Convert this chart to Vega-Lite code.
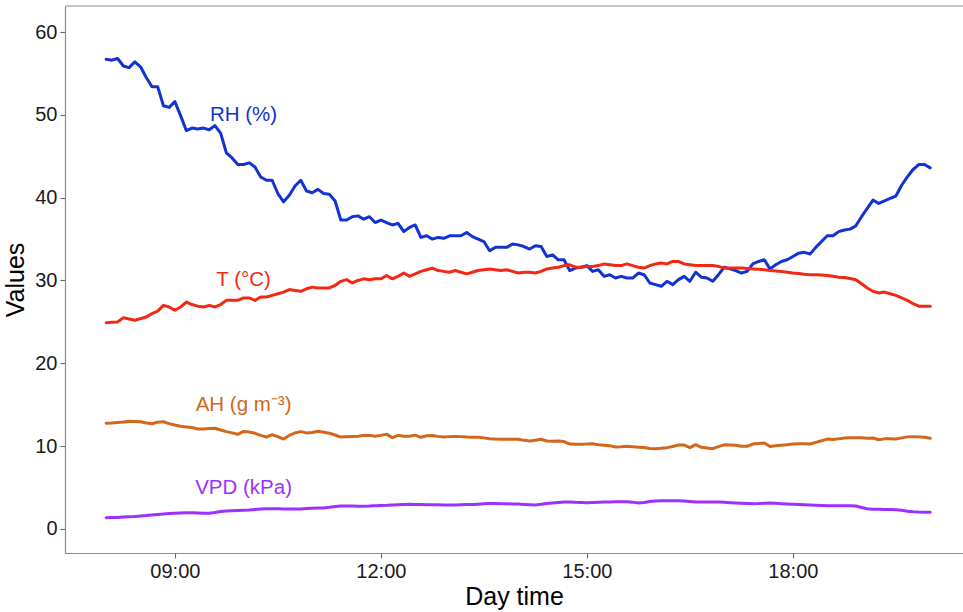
{
  "$schema": "https://vega.github.io/schema/vega-lite/v6.json",
  "width": 898,
  "height": 547,
  "autosize": {"type": "none"},
  "padding": {"left": 65, "top": 6, "right": 0, "bottom": 59},
  "background": "white",
  "config": {
    "view": {"stroke": null},
    "font": "Liberation Sans",
    "axis": {
      "grid": false,
      "labelFont": "Liberation Sans",
      "labelFontSize": 20,
      "labelColor": "#1a1a1a",
      "titleFont": "Liberation Sans",
      "titleFontSize": 25,
      "titleFontWeight": "normal",
      "titleColor": "#000000",
      "domainColor": "#8c8c8c",
      "domainWidth": 1.2,
      "tickColor": "#666666",
      "tickSize": 5,
      "tickWidth": 1.1
    }
  },
  "data": {
    "format": {"parse": {"t": "date:'%H:%M'"}},
    "values": [
      {"t":"08:00","RH":56.7,"T":24.9,"AH":12.76,"VPD":1.36},
      {"t":"08:05","RH":56.6,"T":24.95,"AH":12.8,"VPD":1.38},
      {"t":"08:10","RH":56.8,"T":25.0,"AH":12.86,"VPD":1.40},
      {"t":"08:15","RH":55.9,"T":25.5,"AH":12.92,"VPD":1.44},
      {"t":"08:20","RH":55.7,"T":25.35,"AH":13.0,"VPD":1.48},
      {"t":"08:25","RH":56.4,"T":25.2,"AH":12.97,"VPD":1.52},
      {"t":"08:30","RH":55.8,"T":25.4,"AH":12.95,"VPD":1.58},
      {"t":"08:35","RH":54.5,"T":25.6,"AH":12.8,"VPD":1.63},
      {"t":"08:40","RH":53.4,"T":26.0,"AH":12.7,"VPD":1.70},
      {"t":"08:45","RH":53.4,"T":26.3,"AH":12.9,"VPD":1.76},
      {"t":"08:50","RH":51.1,"T":27.0,"AH":12.95,"VPD":1.82},
      {"t":"08:55","RH":50.9,"T":26.8,"AH":12.72,"VPD":1.86},
      {"t":"09:00","RH":51.6,"T":26.4,"AH":12.55,"VPD":1.90},
      {"t":"09:05","RH":49.9,"T":26.8,"AH":12.4,"VPD":1.94},
      {"t":"09:10","RH":48.1,"T":27.4,"AH":12.32,"VPD":1.97},
      {"t":"09:15","RH":48.4,"T":27.1,"AH":12.25,"VPD":1.95},
      {"t":"09:20","RH":48.3,"T":26.9,"AH":12.08,"VPD":1.92},
      {"t":"09:25","RH":48.4,"T":26.8,"AH":12.07,"VPD":1.90},
      {"t":"09:30","RH":48.2,"T":27.0,"AH":12.12,"VPD":1.90},
      {"t":"09:35","RH":48.7,"T":26.8,"AH":12.16,"VPD":1.98},
      {"t":"09:40","RH":47.8,"T":27.1,"AH":11.95,"VPD":2.10},
      {"t":"09:45","RH":45.4,"T":27.6,"AH":11.75,"VPD":2.17},
      {"t":"09:50","RH":44.8,"T":27.6,"AH":11.6,"VPD":2.20},
      {"t":"09:55","RH":44.0,"T":27.6,"AH":11.43,"VPD":2.24},
      {"t":"10:00","RH":44.0,"T":27.9,"AH":11.78,"VPD":2.27},
      {"t":"10:05","RH":44.2,"T":27.9,"AH":11.7,"VPD":2.29},
      {"t":"10:10","RH":43.7,"T":27.6,"AH":11.55,"VPD":2.35},
      {"t":"10:15","RH":42.5,"T":28.0,"AH":11.3,"VPD":2.42},
      {"t":"10:20","RH":42.1,"T":28.0,"AH":11.1,"VPD":2.45},
      {"t":"10:25","RH":42.1,"T":28.2,"AH":11.38,"VPD":2.45},
      {"t":"10:30","RH":40.5,"T":28.4,"AH":11.15,"VPD":2.43},
      {"t":"10:35","RH":39.5,"T":28.6,"AH":10.85,"VPD":2.41},
      {"t":"10:40","RH":40.3,"T":28.9,"AH":11.3,"VPD":2.41},
      {"t":"10:45","RH":41.4,"T":28.8,"AH":11.6,"VPD":2.41},
      {"t":"10:50","RH":42.1,"T":28.7,"AH":11.75,"VPD":2.42},
      {"t":"10:55","RH":40.8,"T":29.0,"AH":11.6,"VPD":2.46},
      {"t":"11:00","RH":40.6,"T":29.2,"AH":11.65,"VPD":2.50},
      {"t":"11:05","RH":41.0,"T":29.1,"AH":11.8,"VPD":2.52},
      {"t":"11:10","RH":40.5,"T":29.1,"AH":11.68,"VPD":2.54},
      {"t":"11:15","RH":40.4,"T":29.1,"AH":11.55,"VPD":2.62},
      {"t":"11:20","RH":39.6,"T":29.4,"AH":11.35,"VPD":2.72},
      {"t":"11:25","RH":37.3,"T":29.9,"AH":11.1,"VPD":2.78},
      {"t":"11:30","RH":37.3,"T":30.1,"AH":11.15,"VPD":2.77},
      {"t":"11:35","RH":37.7,"T":29.7,"AH":11.17,"VPD":2.76},
      {"t":"11:40","RH":37.8,"T":30.0,"AH":11.2,"VPD":2.75},
      {"t":"11:45","RH":37.4,"T":30.2,"AH":11.3,"VPD":2.74},
      {"t":"11:50","RH":37.7,"T":30.1,"AH":11.3,"VPD":2.76},
      {"t":"11:55","RH":37.0,"T":30.2,"AH":11.2,"VPD":2.80},
      {"t":"12:00","RH":37.3,"T":30.2,"AH":11.3,"VPD":2.84},
      {"t":"12:05","RH":37.0,"T":30.6,"AH":11.45,"VPD":2.86},
      {"t":"12:10","RH":36.7,"T":30.2,"AH":11.02,"VPD":2.90},
      {"t":"12:15","RH":36.9,"T":30.5,"AH":11.3,"VPD":2.94},
      {"t":"12:20","RH":35.9,"T":30.9,"AH":11.2,"VPD":2.97},
      {"t":"12:25","RH":36.4,"T":30.5,"AH":11.2,"VPD":2.98},
      {"t":"12:30","RH":36.7,"T":30.8,"AH":11.33,"VPD":2.97},
      {"t":"12:35","RH":35.2,"T":31.1,"AH":11.07,"VPD":2.95},
      {"t":"12:40","RH":35.4,"T":31.3,"AH":11.25,"VPD":2.94},
      {"t":"12:45","RH":35.0,"T":31.5,"AH":11.28,"VPD":2.93},
      {"t":"12:50","RH":35.2,"T":31.2,"AH":11.18,"VPD":2.92},
      {"t":"12:55","RH":35.1,"T":31.1,"AH":11.1,"VPD":2.91},
      {"t":"13:00","RH":35.4,"T":31.0,"AH":11.15,"VPD":2.90},
      {"t":"13:05","RH":35.4,"T":31.2,"AH":11.18,"VPD":2.91},
      {"t":"13:10","RH":35.4,"T":31.0,"AH":11.15,"VPD":2.93},
      {"t":"13:15","RH":35.8,"T":30.8,"AH":11.1,"VPD":2.95},
      {"t":"13:20","RH":35.3,"T":31.0,"AH":11.08,"VPD":2.97},
      {"t":"13:25","RH":35.0,"T":31.2,"AH":11.07,"VPD":3.00},
      {"t":"13:30","RH":34.7,"T":31.3,"AH":11.0,"VPD":3.04},
      {"t":"13:35","RH":33.6,"T":31.4,"AH":10.9,"VPD":3.09},
      {"t":"13:40","RH":34.0,"T":31.3,"AH":10.86,"VPD":3.08},
      {"t":"13:45","RH":34.0,"T":31.2,"AH":10.84,"VPD":3.06},
      {"t":"13:50","RH":34.0,"T":31.3,"AH":10.83,"VPD":3.04},
      {"t":"13:55","RH":34.4,"T":31.1,"AH":10.83,"VPD":3.02},
      {"t":"14:00","RH":34.3,"T":30.9,"AH":10.83,"VPD":3.01},
      {"t":"14:05","RH":34.1,"T":31.0,"AH":10.7,"VPD":2.97},
      {"t":"14:10","RH":33.8,"T":31.0,"AH":10.62,"VPD":2.93},
      {"t":"14:15","RH":34.2,"T":30.9,"AH":10.72,"VPD":2.90},
      {"t":"14:20","RH":34.1,"T":31.1,"AH":10.83,"VPD":2.98},
      {"t":"14:25","RH":32.9,"T":31.4,"AH":10.62,"VPD":3.08},
      {"t":"14:30","RH":33.1,"T":31.5,"AH":10.6,"VPD":3.14},
      {"t":"14:35","RH":32.5,"T":31.6,"AH":10.62,"VPD":3.20},
      {"t":"14:40","RH":32.5,"T":31.8,"AH":10.55,"VPD":3.25},
      {"t":"14:45","RH":31.2,"T":31.9,"AH":10.25,"VPD":3.26},
      {"t":"14:50","RH":31.5,"T":31.6,"AH":10.22,"VPD":3.22},
      {"t":"14:55","RH":31.6,"T":31.6,"AH":10.22,"VPD":3.20},
      {"t":"15:00","RH":31.8,"T":31.7,"AH":10.25,"VPD":3.18},
      {"t":"15:05","RH":31.1,"T":31.7,"AH":10.3,"VPD":3.20},
      {"t":"15:10","RH":31.3,"T":31.8,"AH":10.17,"VPD":3.23},
      {"t":"15:15","RH":30.5,"T":32.0,"AH":10.12,"VPD":3.26},
      {"t":"15:20","RH":30.7,"T":31.9,"AH":10.06,"VPD":3.27},
      {"t":"15:25","RH":30.3,"T":31.8,"AH":9.9,"VPD":3.28},
      {"t":"15:30","RH":30.5,"T":31.8,"AH":9.92,"VPD":3.29},
      {"t":"15:35","RH":30.3,"T":32.0,"AH":9.98,"VPD":3.30},
      {"t":"15:40","RH":30.3,"T":31.8,"AH":9.94,"VPD":3.24},
      {"t":"15:45","RH":30.9,"T":31.6,"AH":9.88,"VPD":3.13},
      {"t":"15:50","RH":30.7,"T":31.5,"AH":9.83,"VPD":3.20},
      {"t":"15:55","RH":29.7,"T":31.8,"AH":9.72,"VPD":3.32},
      {"t":"16:00","RH":29.5,"T":32.0,"AH":9.7,"VPD":3.38},
      {"t":"16:05","RH":29.3,"T":32.1,"AH":9.74,"VPD":3.40},
      {"t":"16:10","RH":29.9,"T":32.0,"AH":9.82,"VPD":3.41},
      {"t":"16:15","RH":29.5,"T":32.3,"AH":9.95,"VPD":3.42},
      {"t":"16:20","RH":30.1,"T":32.3,"AH":10.14,"VPD":3.40},
      {"t":"16:25","RH":30.5,"T":32.0,"AH":10.14,"VPD":3.37},
      {"t":"16:30","RH":29.9,"T":31.9,"AH":9.82,"VPD":3.32},
      {"t":"16:35","RH":31.0,"T":31.8,"AH":10.18,"VPD":3.27},
      {"t":"16:40","RH":30.4,"T":31.8,"AH":9.86,"VPD":3.26},
      {"t":"16:45","RH":30.3,"T":31.8,"AH":9.78,"VPD":3.26},
      {"t":"16:50","RH":29.9,"T":31.8,"AH":9.69,"VPD":3.26},
      {"t":"16:55","RH":30.7,"T":31.7,"AH":9.95,"VPD":3.26},
      {"t":"17:00","RH":31.6,"T":31.5,"AH":10.16,"VPD":3.22},
      {"t":"17:05","RH":31.4,"T":31.5,"AH":10.15,"VPD":3.17},
      {"t":"17:10","RH":31.2,"T":31.5,"AH":10.1,"VPD":3.13},
      {"t":"17:15","RH":30.9,"T":31.5,"AH":10.0,"VPD":3.10},
      {"t":"17:20","RH":31.1,"T":31.45,"AH":9.98,"VPD":3.08},
      {"t":"17:25","RH":32.0,"T":31.4,"AH":10.25,"VPD":3.06},
      {"t":"17:30","RH":32.3,"T":31.35,"AH":10.33,"VPD":3.07},
      {"t":"17:35","RH":32.5,"T":31.3,"AH":10.38,"VPD":3.10},
      {"t":"17:40","RH":31.4,"T":31.2,"AH":9.95,"VPD":3.13},
      {"t":"17:45","RH":31.9,"T":31.15,"AH":10.05,"VPD":3.10},
      {"t":"17:50","RH":32.3,"T":31.1,"AH":10.12,"VPD":3.06},
      {"t":"17:55","RH":32.5,"T":31.0,"AH":10.17,"VPD":3.03},
      {"t":"18:00","RH":32.9,"T":30.9,"AH":10.25,"VPD":3.00},
      {"t":"18:05","RH":33.3,"T":30.85,"AH":10.3,"VPD":2.97},
      {"t":"18:10","RH":33.4,"T":30.75,"AH":10.28,"VPD":2.94},
      {"t":"18:15","RH":33.2,"T":30.7,"AH":10.26,"VPD":2.90},
      {"t":"18:20","RH":34.0,"T":30.7,"AH":10.45,"VPD":2.86},
      {"t":"18:25","RH":34.7,"T":30.65,"AH":10.65,"VPD":2.83},
      {"t":"18:30","RH":35.4,"T":30.6,"AH":10.85,"VPD":2.81},
      {"t":"18:35","RH":35.4,"T":30.5,"AH":10.8,"VPD":2.80},
      {"t":"18:40","RH":35.9,"T":30.4,"AH":10.88,"VPD":2.80},
      {"t":"18:45","RH":36.1,"T":30.35,"AH":10.98,"VPD":2.79},
      {"t":"18:50","RH":36.2,"T":30.25,"AH":11.0,"VPD":2.79},
      {"t":"18:55","RH":36.6,"T":30.1,"AH":11.02,"VPD":2.78},
      {"t":"19:00","RH":37.7,"T":29.6,"AH":11.0,"VPD":2.60},
      {"t":"19:05","RH":38.7,"T":29.1,"AH":10.95,"VPD":2.45},
      {"t":"19:10","RH":39.7,"T":28.7,"AH":10.98,"VPD":2.38},
      {"t":"19:15","RH":39.3,"T":28.5,"AH":10.78,"VPD":2.37},
      {"t":"19:20","RH":39.6,"T":28.6,"AH":10.88,"VPD":2.36},
      {"t":"19:25","RH":39.9,"T":28.4,"AH":10.88,"VPD":2.35},
      {"t":"19:30","RH":40.2,"T":28.2,"AH":10.87,"VPD":2.33},
      {"t":"19:35","RH":41.5,"T":27.9,"AH":11.0,"VPD":2.25},
      {"t":"19:40","RH":42.5,"T":27.6,"AH":11.12,"VPD":2.15},
      {"t":"19:45","RH":43.4,"T":27.2,"AH":11.15,"VPD":2.07},
      {"t":"19:50","RH":44.0,"T":26.9,"AH":11.12,"VPD":2.04},
      {"t":"19:55","RH":44.0,"T":26.9,"AH":11.07,"VPD":2.03},
      {"t":"20:00","RH":43.6,"T":26.9,"AH":10.95,"VPD":2.02}
    ]
  },
  "layer": [
    {
      "transform": [{"fold": ["RH", "T", "AH", "VPD"], "as": ["var", "value"]}],
      "mark": {"type": "line", "strokeWidth": 3, "strokeJoin": "round", "strokeCap": "round"},
      "encoding": {
        "x": {
          "field": "t",
          "type": "temporal",
          "scale": {
            "domain": [
              {"year": 1900, "month": 1, "date": 1, "hours": 7, "minutes": 24},
              {"year": 1900, "month": 1, "date": 1, "hours": 20, "minutes": 28, "seconds": 38}
            ]
          },
          "axis": {
            "title": "Day time",
            "format": "%H:%M",
            "values": [
              {"year": 1900, "month": 1, "date": 1, "hours": 9},
              {"year": 1900, "month": 1, "date": 1, "hours": 12},
              {"year": 1900, "month": 1, "date": 1, "hours": 15},
              {"year": 1900, "month": 1, "date": 1, "hours": 18}
            ],
            "labelPadding": 3,
            "titlePadding": 3
          }
        },
        "y": {
          "field": "value",
          "type": "quantitative",
          "scale": {"domain": [-2.9, 63.14], "nice": false, "zero": false},
          "axis": {"title": "Values", "values": [0, 10, 20, 30, 40, 50, 60], "labelPadding": 3, "titlePadding": 6}
        },
        "color": {
          "field": "var",
          "type": "nominal",
          "scale": {"domain": ["RH", "T", "AH", "VPD"], "range": ["#1232D2", "#F22812", "#D2661A", "#9B30FF"]},
          "legend": null
        },
        "detail": {"field": "var"}
      }
    },
    {
      "data": {
        "format": {"parse": {"t": "date:'%H:%M'"}},
        "values": [
          {"t": "10:00", "v": 50, "label": "RH (%)", "var": "RH"},
          {"t": "10:00", "v": 30, "label": "T (°C)", "var": "T"},
          {"t": "10:00", "v": 15, "label": "AH (g m⁻³)", "var": "AH"},
          {"t": "10:00", "v": 5, "label": "VPD (kPa)", "var": "VPD"}
        ]
      },
      "mark": {"type": "text", "fontSize": 20.5, "font": "Liberation Sans", "align": "center", "baseline": "middle"},
      "encoding": {
        "x": {"field": "t", "type": "temporal"},
        "y": {"field": "v", "type": "quantitative"},
        "text": {"field": "label"},
        "color": {"field": "var", "type": "nominal", "legend": null}
      }
    },
    {
      "data": {"values": [{"top": 63.14}]},
      "mark": {"type": "rule", "color": "#8c8c8c", "strokeWidth": 1.2},
      "encoding": {"y": {"field": "top", "type": "quantitative"}}
    }
  ]
}
